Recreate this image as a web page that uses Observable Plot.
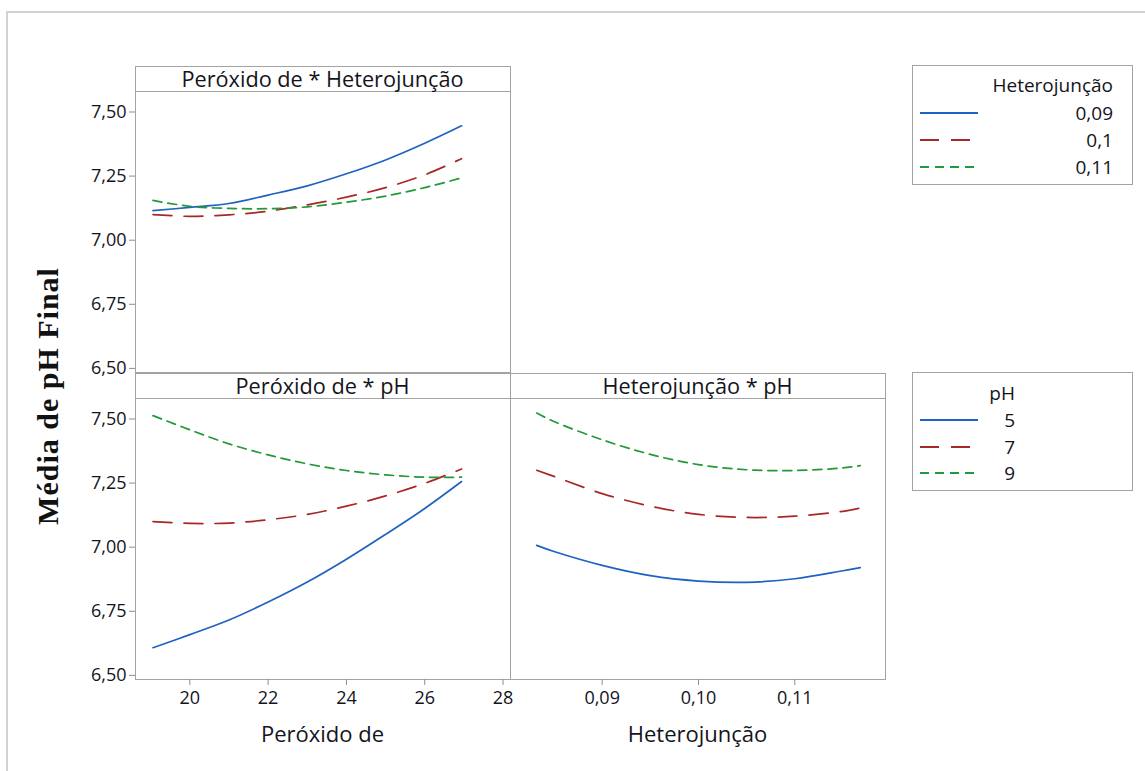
<!DOCTYPE html>
<html>
<head>
<meta charset="utf-8">
<script src="https://cdn.jsdelivr.net/npm/d3@7"></script>
<script src="https://cdn.jsdelivr.net/npm/@observablehq/plot@0.6"></script>
<style>
  html, body { margin: 0; padding: 0; background: #fff; }
  #root { position: relative; width: 1145px; height: 771px; overflow: hidden; font-family: "Open Sans", "Noto Sans", sans-serif; }
  #root svg { display: block; }
</style>
</head>
<body>
<div id="root"></div>
<script>
// ---------------- DATA ----------------
const heteroLevels = ["0,09", "0,1", "0,11"];
const phLevels = ["5", "7", "9"];

// Peróxido de (x) for the two left panels
const peroxidoX = [19.06, 20, 21, 22, 23, 24, 25, 26, 26.94];
// Peróxido de * Heterojunção
const perHet009 = [7.115, 7.128, 7.143, 7.176, 7.212, 7.259, 7.313, 7.378, 7.446];
const perHet010 = [7.100, 7.093, 7.099, 7.113, 7.138, 7.168, 7.205, 7.255, 7.318];
const perHet011 = [7.155, 7.132, 7.124, 7.123, 7.130, 7.148, 7.172, 7.205, 7.243];
// Peróxido de * pH
const perPh5 = [6.608, 6.659, 6.716, 6.786, 6.864, 6.953, 7.050, 7.151, 7.256];
const perPh7 = [7.100, 7.093, 7.094, 7.107, 7.128, 7.160, 7.200, 7.249, 7.305];
const perPh9 = [7.513, 7.458, 7.403, 7.360, 7.325, 7.299, 7.282, 7.273, 7.273];

// Heterojunção (x) for the right panel
const heteroX = [0.0832, 0.085, 0.09, 0.095, 0.10, 0.105, 0.11, 0.115, 0.1168];
// Heterojunção * pH
const hetPh5 = [7.007, 6.983, 6.929, 6.889, 6.868, 6.863, 6.877, 6.908, 6.920];
const hetPh7 = [7.300, 7.276, 7.209, 7.160, 7.128, 7.116, 7.121, 7.140, 7.153];
const hetPh9 = [7.523, 7.490, 7.419, 7.362, 7.322, 7.302, 7.299, 7.309, 7.318];

// ticks
const yTicks = [6.5, 6.75, 7.0, 7.25, 7.5];
const peroxidoTicks = [20, 22, 24, 26, 28];
const heteroTicks = [0.09, 0.10, 0.11];

// ---------------- STYLE ----------------
const FONT = '"Open Sans", "Noto Sans", sans-serif';
const TEXT = "#14141c";
const GRID = "#a3a3a3";
const COLORS = ["#1f62c2", "#a82828", "#22993a"];
const DASHES = [null, "19,12", "9,6"];
const Y_DOMAIN = [6.484, 7.576];
const comma2 = d => d.toFixed(2).replace(".", ",");

const root = document.getElementById("root");

function div(css, html) {
  const d = document.createElement("div");
  d.style.cssText = "position:absolute;" + css;
  if (html !== undefined) d.innerHTML = html;
  root.appendChild(d);
  return d;
}
function label(str, x, y, opts = {}) {
  const {size = 18, anchor = "middle", weight = 400, family = FONT, color = TEXT, spacing = 0} = opts;
  const tx = anchor === "middle" ? "-50%" : anchor === "end" ? "-100%" : "0";
  return div(`left:${x}px;top:${y}px;white-space:nowrap;line-height:1;font-size:${size}px;font-weight:${weight};font-family:${family};color:${color};letter-spacing:${spacing}px;transform:translate(${tx},-50%);`, str);
}

// outer light frame
div("left:6px;top:11px;width:1160px;height:800px;border-left:2px solid #d2d2d2;border-top:2px solid #d2d2d2;");

// ---------------- PANELS ----------------
function panel({xs, series, levels, xDomain, xTicks, xFmt, showY, showX, width, marginLeft}) {
  const rows = [];
  series.forEach((vals, i) => vals.forEach((v, j) => rows.push({x: xs[j], y: v, s: levels[i]})));
  const marks = levels.map((lv, i) => Plot.line(rows.filter(r => r.s === lv), {
    x: "x", y: "y", stroke: "s", strokeWidth: 1.7,
    strokeDasharray: DASHES[i] || undefined, curve: "catmull-rom"
  }));
  if (showY) marks.push(Plot.axisY({ticks: yTicks, tickFormat: comma2, tickSize: 6, tickPadding: 3,
    fontSize: 18, stroke: "#8f8f8f", fill: TEXT, label: null}));
  if (showX) marks.push(Plot.axisX({ticks: xTicks, tickFormat: xFmt, tickSize: 6, tickPadding: 6,
    fontSize: 18, stroke: "#8f8f8f", fill: TEXT, label: null}));
  return Plot.plot({
    width, height: 280 + (showX ? 40 : 0),
    marginLeft, marginRight: 0, marginTop: 0, marginBottom: showX ? 40 : 0,
    x: {domain: xDomain, axis: null},
    y: {domain: Y_DOMAIN, axis: null},
    color: {domain: levels, range: COLORS},
    style: {overflow: "visible", background: "transparent", fontFamily: FONT},
    marks
  });
}

// panel boxes (frame + strip)
function box(left, top, width, title) {
  div(`left:${left}px;top:${top}px;width:${width}px;height:307px;box-sizing:border-box;border:1.5px solid ${GRID};`);
  div(`left:${left}px;top:${top + 25.5}px;width:${width}px;height:0;border-top:1.5px solid ${GRID};`);
  label(title, left + width / 2, top + 13.5, {size: 21.7});
}
box(134.5, 65.5, 376, "Peróxido de * Heterojunção");
box(134.5, 372.5, 376, "Peróxido de * pH");
box(509.5, 372.5, 376, "Heterojunção * pH");

const pTL = panel({xs: peroxidoX, series: [perHet009, perHet010, perHet011], levels: heteroLevels,
  xDomain: [18.613, 28.19], showY: true, showX: false, width: 510, marginLeft: 135});
div("left:0px;top:92px;").appendChild(pTL);

const pBL = panel({xs: peroxidoX, series: [perPh5, perPh7, perPh9], levels: phLevels,
  xDomain: [18.613, 28.19], xTicks: peroxidoTicks, xFmt: d => String(d),
  showY: true, showX: true, width: 510, marginLeft: 135});
div("left:0px;top:399px;").appendChild(pBL);

const pBR = panel({xs: heteroX, series: [hetPh5, hetPh7, hetPh9], levels: phLevels,
  xDomain: [0.08048, 0.11942], xTicks: heteroTicks, xFmt: comma2,
  showY: false, showX: true, width: 375, marginLeft: 0});
div("left:510px;top:399px;").appendChild(pBR);

// axis titles
label("Peróxido de", 322.5, 733, {size: 22});
label("Heterojunção", 697.5, 733, {size: 22});
const yt = label("Média de pH Final", 47.5, 396, {size: 30, weight: 700, family: '"Liberation Serif", "Times New Roman", serif', color: "#111", spacing: 1});
yt.style.transform = "translate(-50%,-50%) rotate(-90deg)";
yt.style.transformOrigin = "50% 50%";

// ---------------- LEGENDS ----------------
function legend(top, height, title, levels, textRight, rowYs, titleY) {
  div(`left:912px;top:${top}px;width:221px;height:${height}px;box-sizing:border-box;border:1.5px solid ${GRID};`);
  label(title, textRight, titleY, {size: 19, anchor: "end"});
  levels.forEach((lv, i) => {
    const svg = `<svg width="60" height="6"><line x1="0" y1="3" x2="58" y2="3" stroke="${COLORS[i]}" stroke-width="2" ${DASHES[i] ? `stroke-dasharray="${DASHES[i]}"` : ""}/></svg>`;
    div(`left:920px;top:${rowYs[i] - 3}px;width:60px;height:6px;`, svg);
    label(lv, textRight, rowYs[i], {size: 19, anchor: "end"});
  });
}
legend(65, 120, "Heterojunção", heteroLevels, 1113, [113.3, 140.3, 167.3], 85);
legend(372, 119, "pH", phLevels, 1015, [420, 446.7, 473.3], 393);
</script>
</body>
</html>
